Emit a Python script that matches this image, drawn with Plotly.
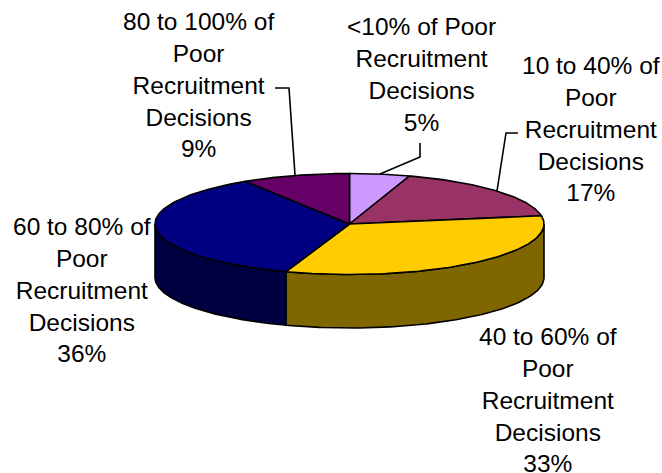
import numpy as np
import plotly.graph_objects as go

categories = ["<10% of Poor<br>Recruitment<br>Decisions",
              "10 to 40% of<br>Poor<br>Recruitment<br>Decisions",
              "40 to 60% of<br>Poor<br>Recruitment<br>Decisions",
              "60 to 80% of<br>Poor<br>Recruitment<br>Decisions",
              "80 to 100% of<br>Poor<br>Recruitment<br>Decisions"]
values = [5.0, 17.4, 32.9, 35.7, 9.0]
top_colors = ["#CC99FF", "#993366", "#FFCC00", "#000080", "#660066"]
side_colors = ["#664C80", "#4D1A33", "#806600", "#000040", "#330033"]

# pie geometry (pixels)
CX, CY, RX, RY, DEPTH = 349.5, 224.0, 194.5, 50.5, 53.5
LW = 1.6
FONT = dict(family="Liberation Sans, Arial, sans-serif", size=24.5, color="black")


def pt(theta, dy=0.0):
    return CX + RX * np.sin(theta), CY - RY * np.cos(theta) + dy


fig = go.Figure()
cum = np.cumsum([0] + values) / sum(values) * 2 * np.pi

# side walls: visible front half of the rim only
for i in range(len(values)):
    a, b = max(cum[i], np.pi / 2), min(cum[i + 1], 3 * np.pi / 2)
    if a >= b:
        continue
    th = np.linspace(a, b, 120)
    x1, y1 = pt(th)
    x2, y2 = pt(th[::-1], DEPTH)
    fig.add_trace(go.Scatter(x=np.r_[x1, x2, x1[0]], y=np.r_[y1, y2, y1[0]],
                             mode="lines", fill="toself", fillcolor=side_colors[i],
                             line=dict(color="black", width=LW), hoverinfo="skip"))

# top faces
for i in range(len(values)):
    th = np.linspace(cum[i], cum[i + 1], 120)
    x, y = pt(th)
    fig.add_trace(go.Scatter(x=np.r_[CX, x, CX], y=np.r_[CY, y, CY],
                             mode="lines", fill="toself", fillcolor=top_colors[i],
                             line=dict(color="black", width=LW), hoverinfo="skip"))

# leader lines
leaders = [([380, 420, 420], [174, 157, 143]),
           ([497, 506, 518], [191, 133, 133]),
           ([295, 289, 275], [175, 88, 88])]
for lx, ly in leaders:
    fig.add_trace(go.Scatter(x=lx, y=ly, mode="lines",
                             line=dict(color="black", width=LW), hoverinfo="skip"))

# labels
label_pos = [(421, 74), (591, 129), (548, 400), (82, 290), (198, 85)]
for cat, v, (lx, ly) in zip(categories, values, label_pos):
    fig.add_annotation(x=lx, y=ly, text=f"{cat}<br>{round(v)}%", showarrow=False,
                       xanchor="center", yanchor="middle", align="center", font=FONT)

fig.update_layout(
    width=662, height=473, showlegend=False,
    margin=dict(l=0, r=0, t=0, b=0),
    paper_bgcolor="white", plot_bgcolor="white",
    xaxis=dict(range=[0, 662], visible=False, fixedrange=True),
    yaxis=dict(range=[473, 0], visible=False, fixedrange=True),
)
fig.write_html("out.html", config=dict(displayModeBar=False),
               post_script="document.body.style.margin='0';document.body.style.overflow='hidden';")
